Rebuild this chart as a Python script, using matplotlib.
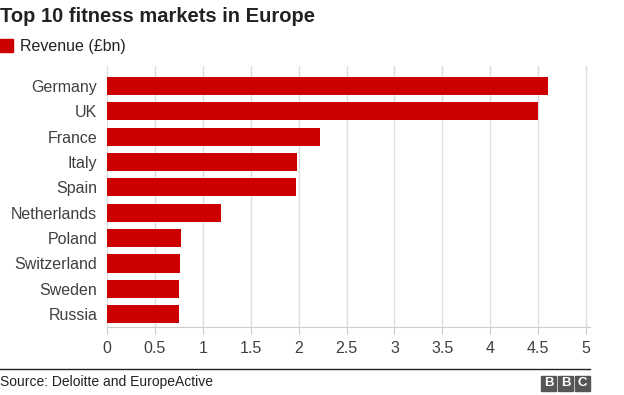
import matplotlib.pyplot as plt
from matplotlib import patches

plt.rcParams['font.family'] = ['Liberation Sans', 'DejaVu Sans']

countries = ['Germany', 'UK', 'France', 'Italy', 'Spain', 'Netherlands',
             'Poland', 'Switzerland', 'Sweden', 'Russia']
revenue = [4.60, 4.50, 2.22, 1.98, 1.97, 1.19, 0.77, 0.76, 0.75, 0.75]
xticks = [0, 0.5, 1, 1.5, 2, 2.5, 3, 3.5, 4, 4.5, 5]
xticklabels = ['0', '0.5', '1', '1.5', '2', '2.5', '3', '3.5', '4', '4.5', '5']

W, H = 624, 395
fig = plt.figure(figsize=(W / 100, H / 100), dpi=100)

# axes placed in pixel coords: left 107, right 590, top 66, bottom 327
ax = fig.add_axes([107 / W, 1 - 327 / H, (590 - 107) / W, (327 - 66) / H])

pos = list(range(len(countries)))
ax.barh(pos, revenue, height=0.72, color='#cc0000', zorder=3)
ax.set_ylim(9.51, -0.79)
ax.set_xlim(0, 5 * (590 - 107) / (586 - 107))

ax.set_xticks(xticks)
ax.set_xticklabels(xticklabels)
ax.set_yticks(pos)
ax.set_yticklabels(countries)
ax.grid(axis='x', color='#dddddd', linewidth=1, zorder=0)
ax.tick_params(axis='x', length=5, color='#cccccc', labelsize=11.5,
               labelcolor='#404040', pad=5)
ax.tick_params(axis='y', length=0, labelsize=11.5, labelcolor='#404040', pad=7)
for s in ['top', 'right', 'left']:
    ax.spines[s].set_visible(False)
ax.spines['bottom'].set_color('#cccccc')

# title and legend
fig.text(0, 1 - 17 / H, 'Top 10 fitness markets in Europe', fontsize=14.5,
         fontweight='bold', color='#222222', va='center', ha='left')
fig.patches.append(patches.Rectangle((0, 1 - 52 / H), 13 / W, 13 / H,
                                     transform=fig.transFigure, color='#cc0000'))
fig.text(20 / W, 1 - 46 / H, 'Revenue (£bn)', fontsize=11.5, color='#222222',
         va='center', ha='left')

# footer
fig.lines.append(plt.Line2D([0, 590 / W], [1 - 369 / H, 1 - 369 / H],
                            transform=fig.transFigure, color='#222222', linewidth=1))
fig.text(0, 1 - 382 / H, 'Source: Deloitte and EuropeActive', fontsize=10,
         color='#222222', va='center', ha='left')
for i, letter in enumerate('BBC'):
    x0 = 541 + i * 17
    fig.patches.append(patches.Rectangle((x0 / W, 1 - 391 / H), 15 / W, 15 / H,
                                         transform=fig.transFigure, color='#555555'))
    fig.text((x0 + 7.5) / W, 1 - 383.5 / H, letter, fontsize=9.5, fontweight='bold',
             color='white', va='center', ha='center')

fig.savefig('out.png', dpi=100)
